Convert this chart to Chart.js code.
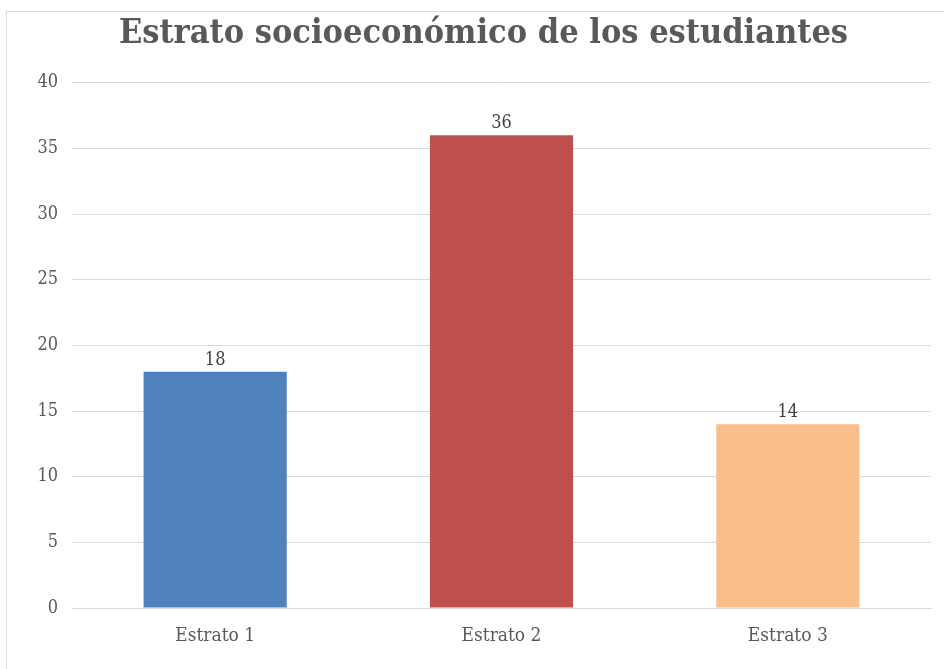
<!DOCTYPE html>
<html>
<head>
<meta charset="utf-8">
<script src="https://cdn.jsdelivr.net/npm/chart.js@4"></script>
<style>
  html, body { margin: 0; padding: 0; background: #fff; overflow: hidden; }
  #frame {
    position: absolute; left: 6px; top: 11px; width: 1000px; height: 1000px;
    border-left: 1px solid #dcdcdc; border-top: 1px solid #dcdcdc;
  }
  #wrap { position: absolute; left: 0; top: 0; width: 944px; height: 669px; }
</style>
</head>
<body>
<div id="frame"></div>
<div id="wrap"><canvas id="chart" width="944" height="669"></canvas></div>
<script>
  // Data
  const categories = ['Estrato 1', 'Estrato 2', 'Estrato 3'];
  const students = [18, 36, 14];
  const barColors = ['#4F81BD', '#C0504D', '#F9BE8C'];

  const labelFont = "'DejaVu Serif Condensed', 'DejaVu Serif'";

  // Value labels above each bar
  const valueLabels = {
    id: 'valueLabels',
    afterDatasetsDraw(chart) {
      const ctx = chart.ctx;
      const meta = chart.getDatasetMeta(0);
      ctx.save();
      ctx.font = '18px ' + labelFont;
      ctx.fillStyle = '#404040';
      ctx.textAlign = 'center';
      ctx.textBaseline = 'alphabetic';
      meta.data.forEach((bar, i) => {
        ctx.fillText(students[i], bar.x, bar.y - 7);
      });
      ctx.restore();
    }
  };

  const ctx = document.getElementById('chart').getContext('2d');
  new Chart(ctx, {
    type: 'bar',
    data: {
      labels: categories,
      datasets: [{
        data: students,
        backgroundColor: barColors,
        categoryPercentage: 1,
        barPercentage: 0.5
      }]
    },
    options: {
      responsive: false,
      animation: false,
      layout: { padding: { left: 36, right: 13, top: 0, bottom: 0 } },
      plugins: {
        legend: { display: false },
        tooltip: { enabled: false },
        title: {
          display: true,
          text: 'Estrato socioeconómico de los estudiantes',
          color: '#595959',
          font: { family: labelFont, size: 34, weight: 'bold' },
          padding: { top: 14, bottom: 28 }
        }
      },
      scales: {
        y: {
          min: 0,
          max: 40,
          ticks: {
            stepSize: 5,
            color: '#595959',
            padding: 14,
            font: { family: labelFont, size: 18 }
          },
          grid: { color: '#d9d9d9', drawTicks: false },
          border: { display: false },
          afterFit: s => { s.width = 36; }
        },
        x: {
          ticks: {
            color: '#595959',
            padding: 17,
            font: { family: labelFont, size: 19 }
          },
          grid: { display: false, drawTicks: false },
          border: { color: '#d9d9d9' },
          afterFit: s => { s.height = 61; }
        }
      }
    },
    plugins: [valueLabels]
  });
</script>
</body>
</html>
